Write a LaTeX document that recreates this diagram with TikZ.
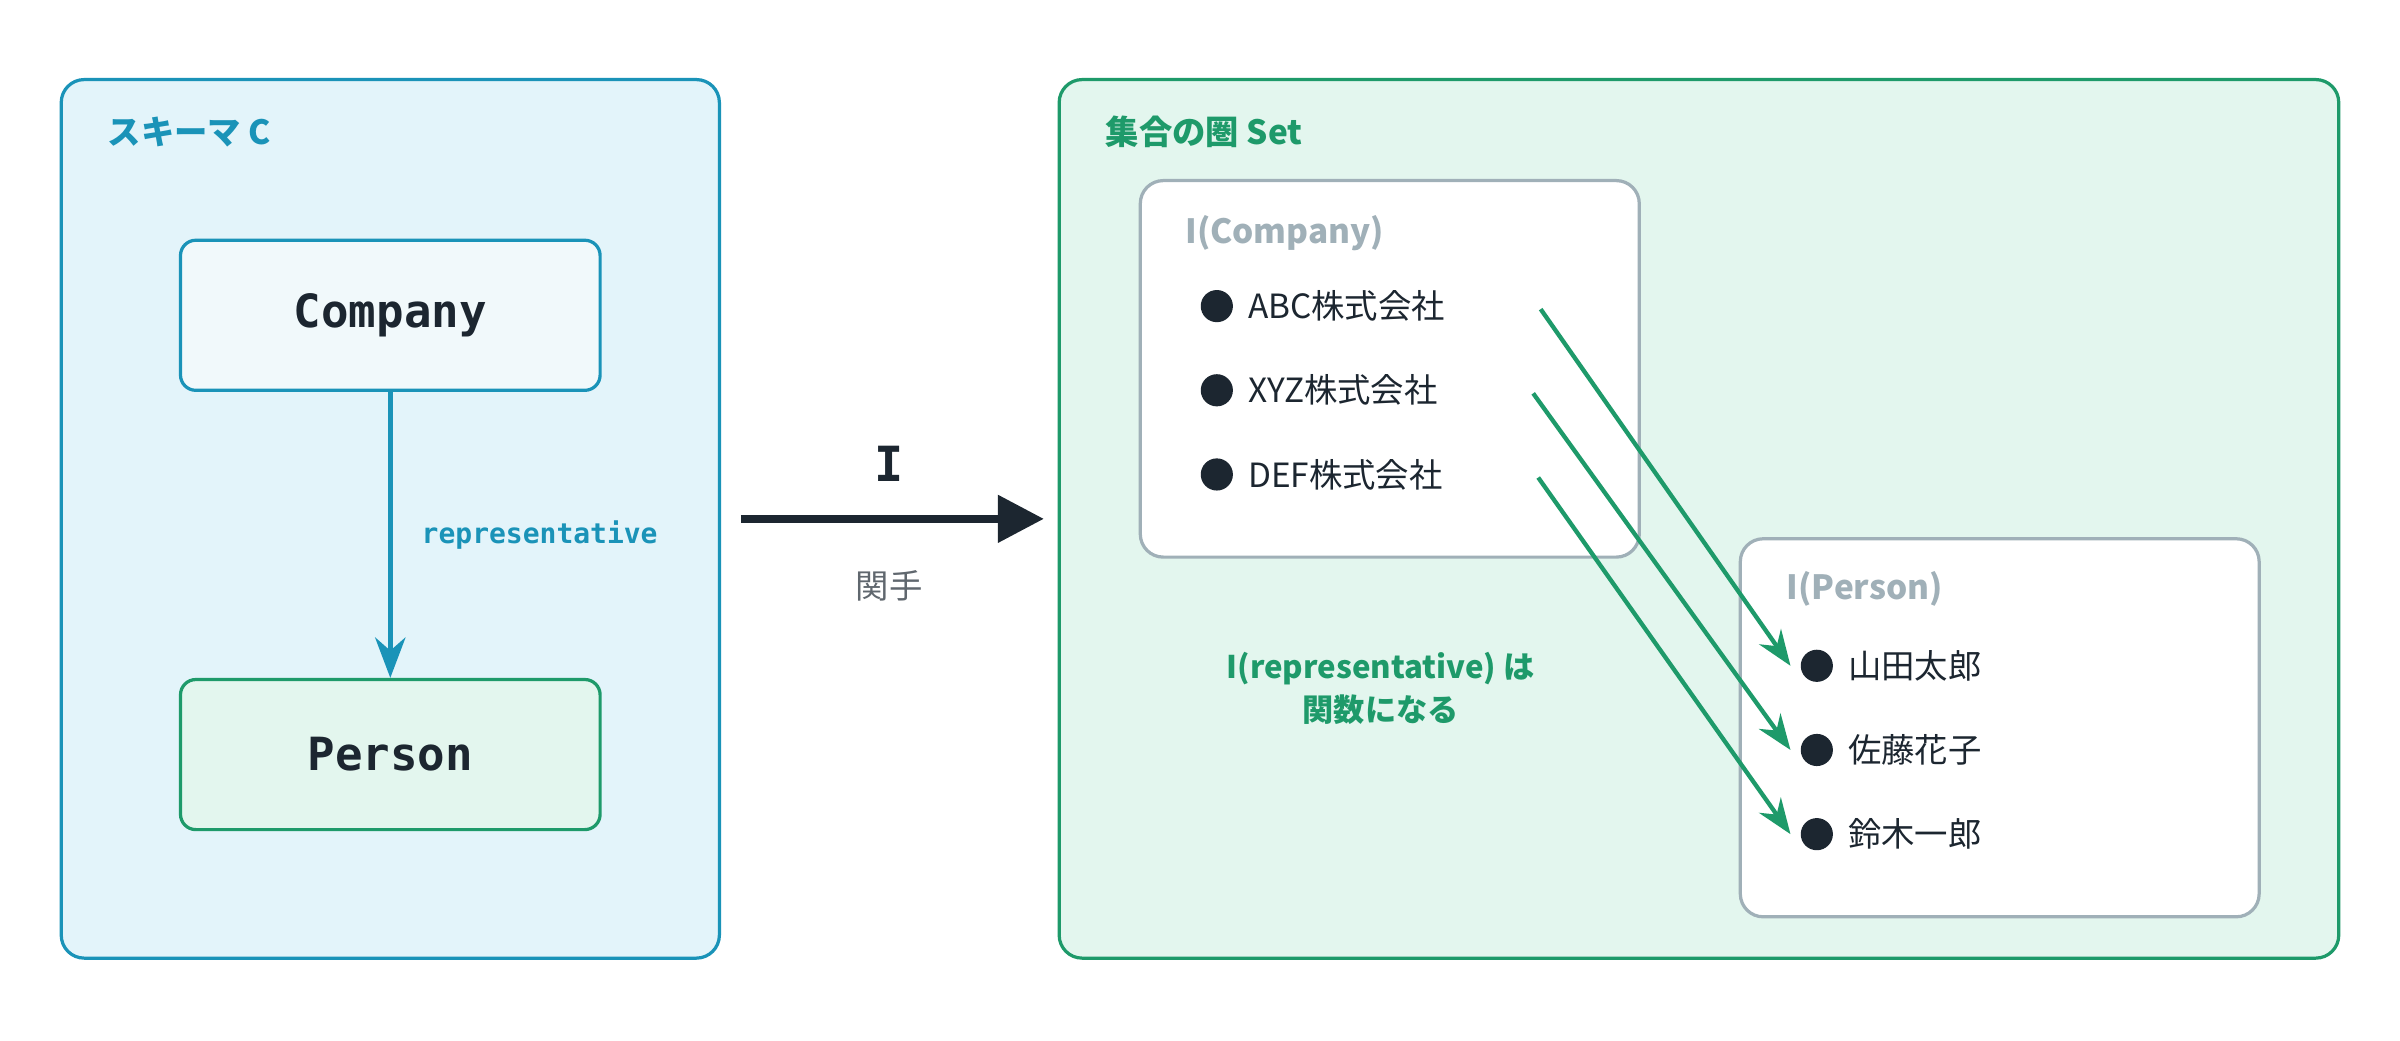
\documentclass[tikz,border=0pt]{standalone}
\usepackage{fontspec}
\setmainfont{Noto Sans CJK JP}
\newfontfamily\monof{DejaVu Sans Mono}
\usetikzlibrary{arrows.meta, positioning}
\definecolor{azulcito}{RGB}{26,147,184}
\definecolor{verdecito}{RGB}{30,154,106}
\definecolor{grisito}{RGB}{160,176,184}
\definecolor{oscurito}{RGB}{28,38,48}
\definecolor{fondoazul}{RGB}{227,244,250}
\definecolor{fondoverde}{RGB}{227,246,238}
\tikzset{>=Stealth,
  panel/.style={draw, rounded corners=0.15cm, line width=0.6pt},
  objbox/.style={draw, rounded corners=0.1cm, line width=0.6pt, minimum width=2.74cm, minimum height=0.98cm, font=\monof\bfseries\fontsize{8.5}{10}\selectfont},
  item/.style={right, font=\fontsize{6.2}{7}\selectfont, text=oscurito},
  dot/.style={circle, fill=oscurito, inner sep=0pt, minimum size=0.21cm},
  ttl/.style={right, font=\bfseries\fontsize{6.2}{7}\selectfont}}
\begin{document}
\begin{tikzpicture}[x=0.01cm, y=-0.01cm]
  \useasboundingbox (0,0) rectangle (1568,680);

  % left panel
  \draw[panel, azulcito, fill=fondoazul] (40,52) rectangle (470,626);
  \node[ttl, azulcito] (schema) at (58,86) {スキーマ C};
  \node[objbox, draw=azulcito, fill=azulcito!6, text=oscurito] (company) at (255,206) {Company};
  \node[objbox, draw=verdecito, fill=fondoverde, text=oscurito] (person) at (255,493) {Person};
  \draw[->, azulcito, line width=1pt] (company.south) -- (person.north)
    node[midway, right, xshift=2pt, font=\monof\bfseries\fontsize{5.2}{6}\selectfont] {representative};

  % functor
  \coordinate (fstart) at (484,339);
  \coordinate (fend) at (682,339);
  \draw[-{Triangle[length=0.3cm,width=0.3cm]}, oscurito, line width=1.5pt] (fstart) -- (fend);
  \node[font=\monof\bfseries\fontsize{9}{10}\selectfont, text=oscurito] (flabel) at (581,303) {I};
  \node[font=\fontsize{6.2}{7}\selectfont, text=oscurito!70] (fname) at (581,383) {関手};

  % right panel
  \draw[panel, verdecito, fill=fondoverde] (692,52) rectangle (1528,626);
  \node[ttl, verdecito] (setcat) at (710,86) {集合の圏 Set};

  \draw[panel, grisito, fill=white] (745,118) rectangle (1071,364);
  \node[ttl, grisito] (icomp) at (762,152) {I(Company)};
  \draw[panel, grisito, fill=white] (1137,352) rectangle (1476,599);
  \node[ttl, grisito] (ipers) at (1155,385) {I(Person)};

  \foreach \name/\txt/\y in {abc/ABC株式会社/200, xyz/XYZ株式会社/255, def/DEF株式会社/310}{
    \node[dot] (d\name) at (795,\y) {};
    \node[item] (\name) at (803,\y) {\txt};
  }
  \foreach \name/\txt/\y in {yamada/山田太郎/435, sato/佐藤花子/490, suzuki/鈴木一郎/545}{
    \node[dot] (d\name) at (1187,\y) {};
    \node[item] (\name) at (1195,\y) {\txt};
  }
  \foreach \a/\b in {abc/yamada, xyz/sato, def/suzuki}
    \draw[->, verdecito, line width=0.8pt] ([xshift=0.5cm,yshift=-0.02cm]\a.east) -- ([xshift=-0.06cm]d\b.west);

  \node[align=center, font=\bfseries\fontsize{5.8}{8}\selectfont, text=verdecito] (note) at (902,450) {I(representative) は\\関数になる};
\end{tikzpicture}
\end{document}
